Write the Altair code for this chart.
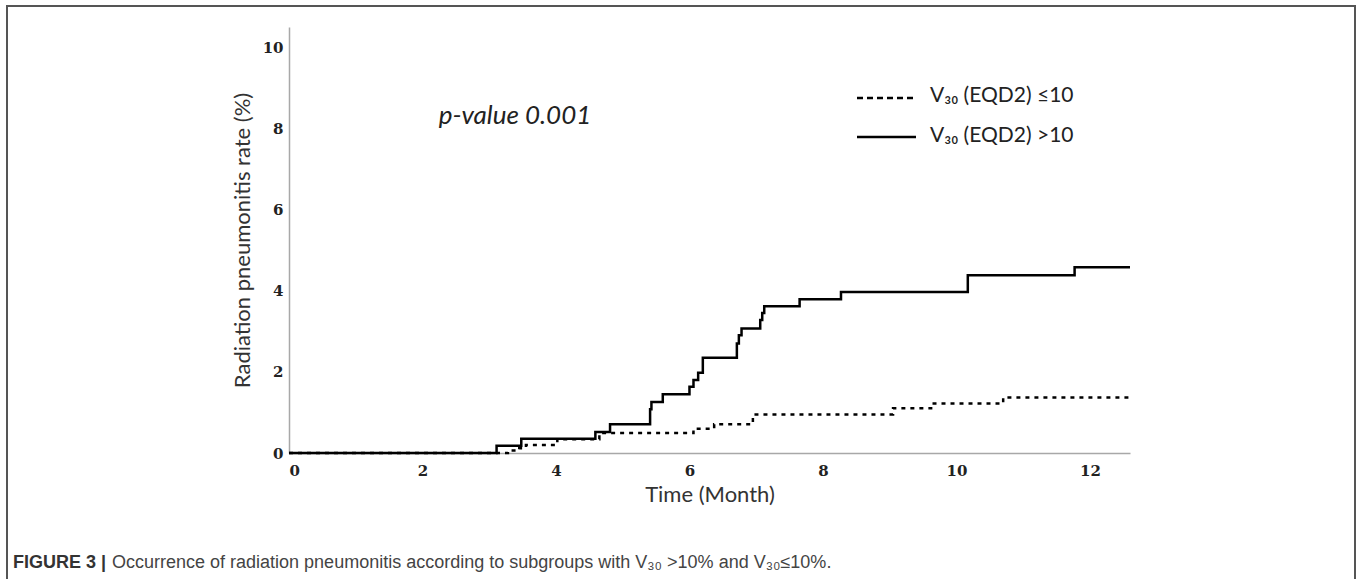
import altair as alt
import pandas as pd

# ---- data ----
solid_t = [0, 3.11, 3.48, 4.59, 4.81, 5.41, 5.43, 5.60, 6.00, 6.06, 6.13, 6.20, 6.71, 6.74, 6.78, 7.06, 7.09, 7.12, 7.65, 8.27, 10.17, 11.77, 12.6]
solid_v = [0, 0.18, 0.35, 0.52, 0.71, 1.08, 1.26, 1.45, 1.63, 1.80, 1.98, 2.35, 2.70, 2.90, 3.07, 3.28, 3.45, 3.62, 3.79, 3.97, 4.38, 4.58, 4.58]
dash_t = [0, 3.28, 3.45, 3.55, 4.02, 4.65, 6.06, 6.37, 6.95, 9.05, 9.64, 10.70, 12.6]
dash_v = [0, 0.06, 0.12, 0.20, 0.34, 0.49, 0.60, 0.71, 0.95, 1.10, 1.22, 1.37, 1.37]
x_ticks = [0, 2, 4, 6, 8, 10, 12]
y_ticks = [0, 2, 4, 6, 8, 10]
legend_labels = ["V\u2083\u2080 (EQD2) \u226410", "V\u2083\u2080 (EQD2) >10"]
pvalue_text = ["p-value 0.001"]
x_title = "Time (Month)"
y_title = "Radiation pneumonitis  rate (%)"
caption_bold = ["FIGURE 3 |"]
caption_rest = ["Occurrence of radiation pneumonitis according to subgroups with V\u2083\u2080 >10% and V\u2083\u2080\u226410%."]

# ---- layout ----
W, H = 841, 426
LEFT, TOP = 289, 27
XMAX, YMAX = 12.6, 10.5

solid_df = pd.DataFrame({"t": solid_t, "v": solid_v})
dash_df = pd.DataFrame({"t": dash_t, "v": dash_v})
one = pd.DataFrame({"a": [0]})

xscale = alt.Scale(domain=[0, XMAX], nice=False)
yscale = alt.Scale(domain=[0, YMAX], nice=False)

xenc = alt.X("t:Q", scale=xscale,
             axis=alt.Axis(values=x_ticks, format="d", title=x_title, labelPadding=10, titlePadding=6))
yenc = alt.Y("v:Q", scale=yscale,
             axis=alt.Axis(values=y_ticks, format="d", title=y_title, labelPadding=6, titlePadding=8))

solid = alt.Chart(solid_df).mark_line(interpolate="step-after", color="black", strokeWidth=2.5).encode(x=xenc, y=yenc)
dashed = alt.Chart(dash_df).mark_line(interpolate="step-after", color="black", strokeWidth=2.5,
                                      strokeDash=[4, 5]).encode(x=alt.X("t:Q", scale=xscale),
                                                                y=alt.Y("v:Q", scale=yscale))

leg_dash = alt.Chart(one).mark_rule(color="black", strokeWidth=2.5, strokeDash=[6, 4]).encode(
    x=alt.value(857 - LEFT), x2=alt.value(916 - LEFT), y=alt.value(98 - TOP))
leg_solid = alt.Chart(one).mark_rule(color="black", strokeWidth=2.5).encode(
    x=alt.value(857 - LEFT), x2=alt.value(916 - LEFT), y=alt.value(137 - TOP))
leg_text1 = alt.Chart(pd.DataFrame({"label": [legend_labels[0]]})).mark_text(
    align="left", baseline="middle", font="Lato", fontSize=21, color="#222").encode(
    text="label:N", x=alt.value(930 - LEFT), y=alt.value(96 - TOP))
leg_text2 = alt.Chart(pd.DataFrame({"label": [legend_labels[1]]})).mark_text(
    align="left", baseline="middle", font="Lato", fontSize=21, color="#222").encode(
    text="label:N", x=alt.value(930 - LEFT), y=alt.value(136 - TOP))

pval = alt.Chart(pd.DataFrame({"txt": pvalue_text})).mark_text(
    align="center", baseline="middle", font="Lato", fontStyle="italic", fontSize=26, color="#222").encode(
    text="txt:N", x=alt.value(515 - LEFT), y=alt.value(116 - TOP))

frame = alt.Chart(one).mark_rect(fillOpacity=0, stroke="#555555", strokeWidth=2).encode(
    x=alt.value(7 - LEFT), x2=alt.value(1355 - LEFT), y=alt.value(6 - TOP), y2=alt.value(640))

cap1 = alt.Chart(pd.DataFrame({"txt": caption_bold})).mark_text(
    align="left", baseline="middle", font="Liberation Sans", fontWeight="bold", fontSize=18, color="#333").encode(
    text="txt:N", x=alt.value(13 - LEFT), y=alt.value(563 - TOP))
cap2 = alt.Chart(pd.DataFrame({"txt": caption_rest})).mark_text(
    align="left", baseline="middle", font="Liberation Sans", fontSize=18, color="#444").encode(
    text="txt:N", x=alt.value(112 - LEFT), y=alt.value(563 - TOP))

chart = alt.layer(frame, solid, dashed, leg_dash, leg_solid, leg_text1, leg_text2, pval,
                  cap1, cap2).properties(
    width=W, height=H,
    autosize=alt.AutoSizeParams(type="none"),
    padding={"left": LEFT, "top": TOP, "right": 1360 - LEFT - W, "bottom": 579 - TOP - H},
    background="white",
).configure_view(stroke=None).configure_axis(
    domainColor="#a8a8a8", domainWidth=1.5, ticks=False, tickSize=0, grid=False,
    labelFont="DejaVu Serif", labelFontWeight="bold", labelFontSize=15, labelColor="#222",
    titleFont="Lato", titleFontSize=22, titleFontWeight="normal", titleColor="#333",
)

chart.save("out.html", embed_options={"renderer": "svg", "actions": False})
